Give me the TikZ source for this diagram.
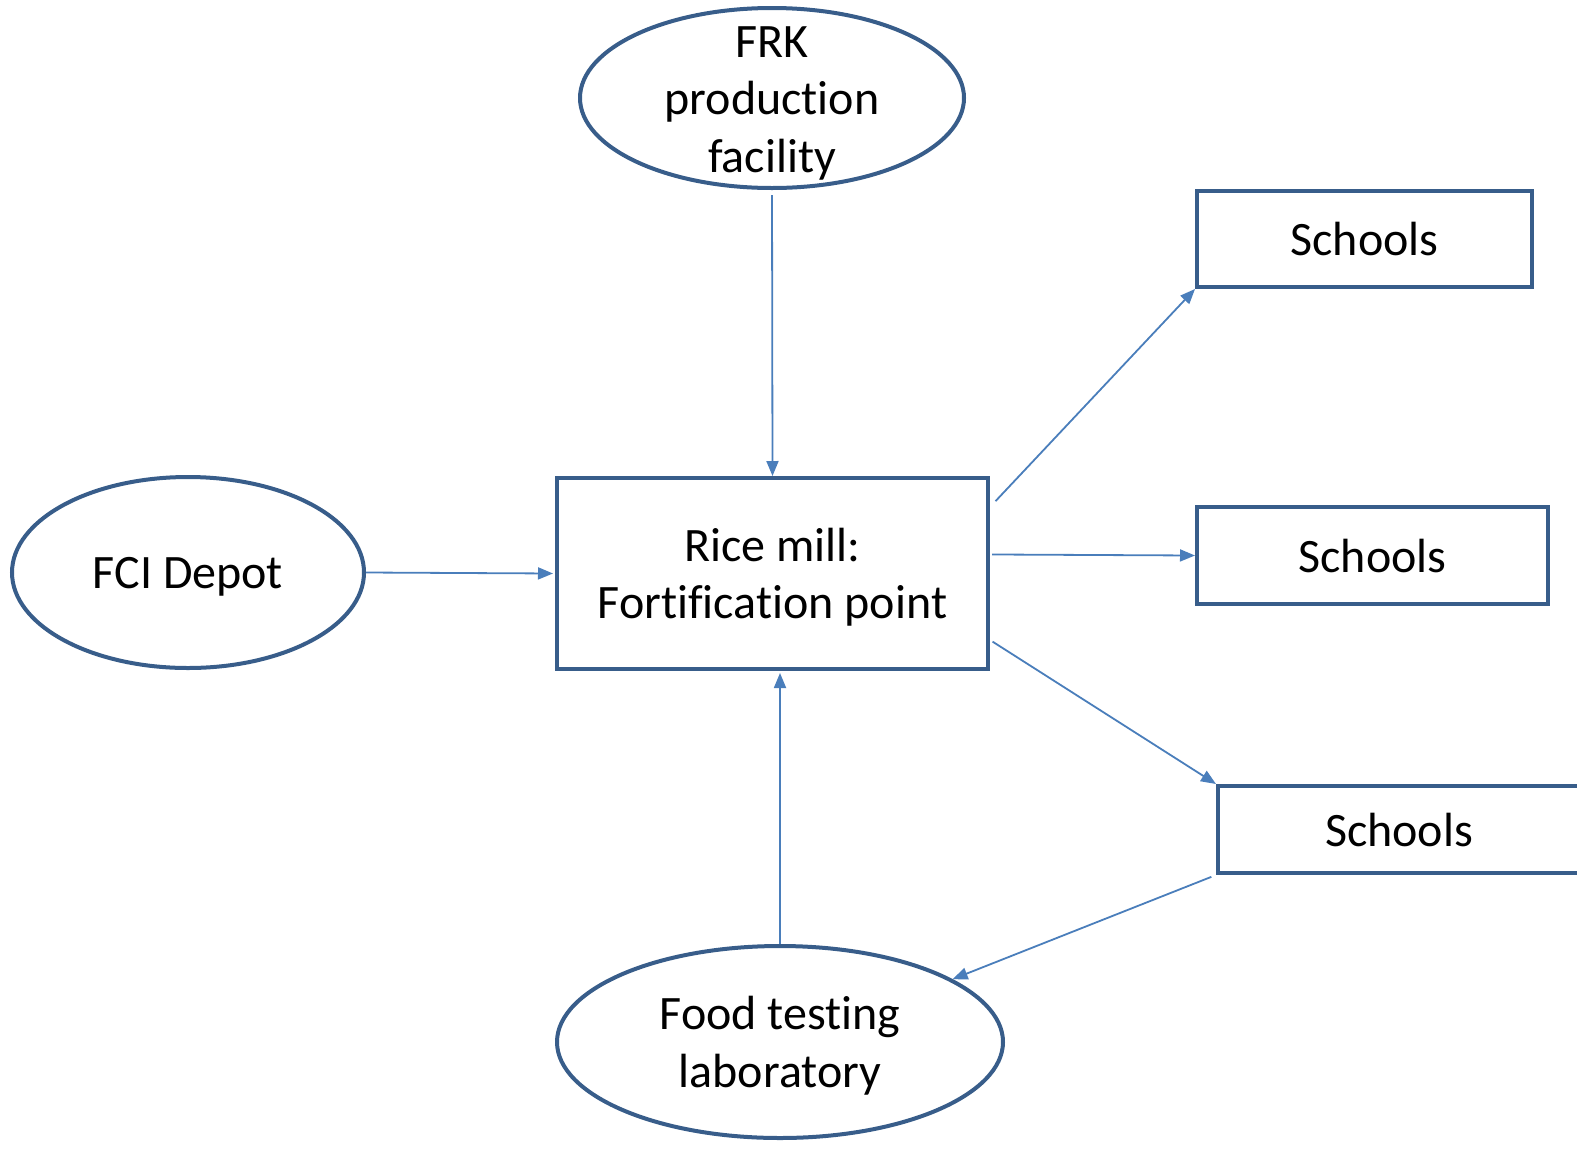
\documentclass[tikz,border=0pt]{standalone}
\usepackage{fontspec}
\setmainfont[Ligatures=NoCommon]{Carlito}
\usetikzlibrary{shapes.geometric,arrows.meta}

\definecolor{lineblue}{HTML}{385D8A}
\definecolor{flowblue}{HTML}{4A7EBB}

\tikzset{
  stage/.style={ellipse, draw=lineblue, line width=4pt, inner sep=0pt, align=center, text depth=0pt},
  site/.style={rectangle, draw=lineblue, line width=4pt, inner sep=0pt, align=center, text depth=0pt},
  flow/.style={draw=flowblue, line width=1.8pt, -{Triangle[length=15pt,width=12pt]}},
}

\begin{document}
\begin{tikzpicture}[x=1pt, y=-1pt, font=\fontsize{48}{57.5}\selectfont]
    \useasboundingbox (0,0) rectangle (1577,1149);
    \clip (0,0) rectangle (1577,1149);

    % Ellipses
    \node[stage, minimum width=384pt, minimum height=180pt,
          label={[name=frktext, align=center, yshift=-5pt]center:FRK\\production\\facility}] (frk) at (772,98) {};
    \node[stage, minimum width=352pt, minimum height=191pt] (fci) at (188,572.5) {FCI Depot};
    \node[stage, minimum width=446pt, minimum height=192pt] (food) at (780,1042) {Food testing\\laboratory};

    % Boxes
    \node[site, minimum width=431pt, minimum height=191pt] (mill) at (772.5,573.5) {Rice mill:\\Fortification point};
    \node[site, minimum width=335pt, minimum height=96pt] (school1) at (1364.5,239) {Schools};
    \node[site, minimum width=351pt, minimum height=97pt] (school2) at (1372.5,555.5) {Schools};
    \node[site, minimum width=362pt, minimum height=87pt] (school3) at (1399,829.5) {Schools};

    % Arrows into the mill
    \draw[flow, shorten <=5pt] (frk.south) -- (mill.north);
    \draw[flow, shorten >=2pt] (fci.east) -- (mill.west);
    \draw[flow, shorten >=2pt] (food.north) -- (food.north |- mill.south);

    % Arrows to the schools and back to the lab
    \draw[flow, shorten <=8pt] (mill.17) -- (school1.south west);
    \draw[flow, shorten <=2pt] (mill.5) -- (school2.west);
    \draw[flow, shorten <=3pt] (mill.-17) -- (school3.north west);
    \draw[flow, shorten <=5pt] (school3.south west) -- (food.20);
\end{tikzpicture}
\end{document}
